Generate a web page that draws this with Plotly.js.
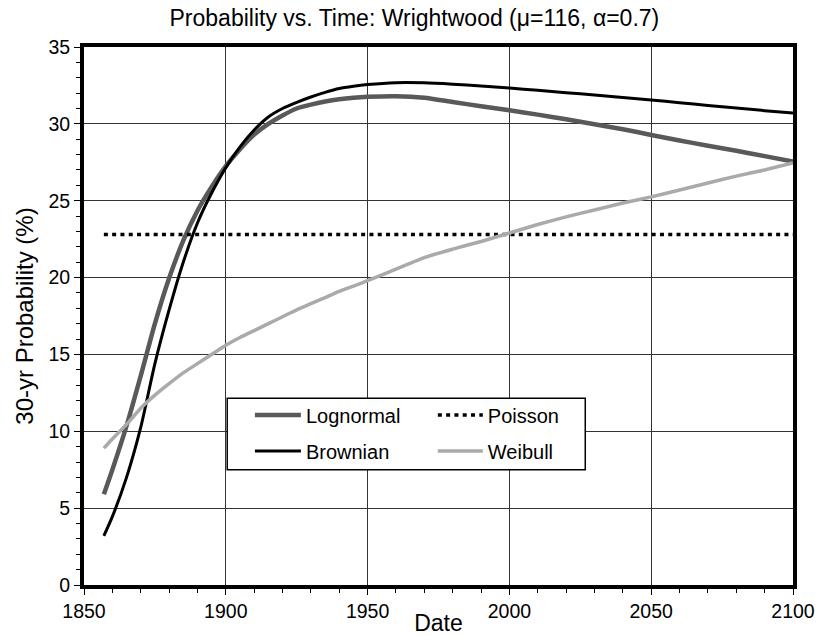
<!DOCTYPE html>
<html>
<head>
<meta charset="utf-8">
<script src="https://cdn.plot.ly/plotly-3.0.1.min.js"></script>
<style>
  html, body { margin: 0; padding: 0; background: #fff; }
  #chart { width: 816px; height: 636px; }
</style>
</head>
<body>
<div id="chart"></div>
<script>
// 30-year conditional probability for the Wrightwood site, by forecast start date
const years = [1857, 1860, 1865, 1870, 1875, 1880, 1885, 1890, 1895, 1900, 1905, 1910,
  1915, 1920, 1925, 1930, 1935, 1940, 1945, 1950, 1960, 1970, 1980, 1990, 2000,
  2010, 2020, 2030, 2040, 2050, 2060, 2070, 2080, 2090, 2100];

const lognormal = [5.9, 7.5, 10.35, 13.6, 17.0, 19.95, 22.4, 24.35, 25.9, 27.25, 28.35, 29.3,
  30.0, 30.55, 31.0, 31.25, 31.45, 31.6, 31.7, 31.76, 31.8, 31.7, 31.42, 31.15, 30.88,
  30.6, 30.3, 29.98, 29.65, 29.28, 28.92, 28.58, 28.25, 27.9, 27.55];

const brownian = [3.2, 4.45, 7.0, 10.25, 14.4, 17.9, 21.0, 23.55, 25.5, 27.15, 28.5, 29.6,
  30.45, 31.0, 31.4, 31.75, 32.05, 32.3, 32.45, 32.56, 32.68, 32.67, 32.58, 32.46, 32.33,
  32.18, 32.03, 31.88, 31.72, 31.55, 31.38, 31.2, 31.03, 30.86, 30.7];

const weibull = [8.9, 9.5, 10.45, 11.5, 12.35, 13.1, 13.8, 14.4, 15.0, 15.6, 16.1, 16.55,
  17.0, 17.45, 17.9, 18.3, 18.7, 19.1, 19.45, 19.8, 20.55, 21.3, 21.85, 22.35, 22.9,
  23.45, 23.95, 24.4, 24.85, 25.25, 25.7, 26.15, 26.6, 27.0, 27.45];

// time-independent model: constant over the whole window
const poissonYears = [1857, 2100];
const poissonValue = 22.8;
const poisson = poissonYears.map(() => poissonValue);

const FONT = 'Liberation Sans, Arial, Helvetica, sans-serif';

const traces = [
  { x: years, y: lognormal, name: 'Lognormal', mode: 'lines',
    line: { color: '#595959', width: 4.5, shape: 'spline', smoothing: 0.6 },
    legend: 'legend', legendgroup: 'a' },
  { x: years, y: brownian, name: 'Brownian', mode: 'lines',
    line: { color: '#000000', width: 3, shape: 'spline', smoothing: 0.6 },
    legend: 'legend', legendgroup: 'b' },
  { x: poissonYears, y: poisson, name: 'Poisson', mode: 'lines',
    line: { color: '#000000', width: 3.5, dash: '4px,4.3px' },
    legend: 'legend2', legendgroup: 'c' },
  { x: years, y: weibull, name: 'Weibull', mode: 'lines',
    line: { color: '#aaaaaa', width: 3.5, shape: 'spline', smoothing: 0.6 },
    legend: 'legend2', legendgroup: 'd' }
];

const axisCommon = {
  showline: true, linecolor: '#000', linewidth: 4, mirror: true,
  showgrid: true, gridcolor: '#333', gridwidth: 1,
  zeroline: false,
  ticks: 'outside', ticklen: 6, tickwidth: 1, tickcolor: '#000',
  tickfont: { family: FONT, size: 19.5, color: '#000' }
};

const legendCommon = {
  orientation: 'v', bgcolor: 'rgba(0,0,0,0)', borderwidth: 0,
  font: { family: FONT, size: 20, color: '#000' },
  tracegroupgap: 7, xanchor: 'left', yanchor: 'top'
};

const layout = {
  width: 816, height: 636,
  margin: { l: 84, r: 23, t: 47, b: 51 },
  paper_bgcolor: '#fff', plot_bgcolor: '#fff',
  font: { family: FONT, color: '#000' },
  title: {
    text: 'Probability vs. Time: Wrightwood (μ=116, α=0.7)',
    font: { family: FONT, size: 23, color: '#000' },
    xref: 'paper', x: 0.466, xanchor: 'center',
    yref: 'container', y: 0.972, yanchor: 'middle'
  },
  xaxis: Object.assign({}, axisCommon, {
    range: [1850, 2100], dtick: 50, tick0: 1850,
    minor: { dtick: 10, ticklen: 4, tickcolor: '#000', showgrid: false },
    title: { text: 'Date', font: { family: FONT, size: 23, color: '#000' }, standoff: 0 }
  }),
  yaxis: Object.assign({}, axisCommon, {
    range: [0, 35], dtick: 5, tick0: 0,
    minor: { dtick: 1, ticklen: 4, tickcolor: '#000', showgrid: false },
    title: { text: '30-yr Probability (%)', font: { family: FONT, size: 24, color: '#000' }, standoff: 9 }
  }),
  showlegend: true,
  legend: Object.assign({}, legendCommon, { x: 0.234, y: 0.352, itemwidth: 46 }),
  legend2: Object.assign({}, legendCommon, { x: 0.492, y: 0.352, itemwidth: 45 }),
  shapes: [{
    type: 'rect', xref: 'paper', yref: 'paper', layer: 'above',
    x0: 0.202, x1: 0.707, y0: 0.214, y1: 0.347,
    fillcolor: '#fff', line: { color: '#000', width: 1.5 }
  }]
};

Plotly.newPlot('chart', traces, layout, { staticPlot: true, displayModeBar: false });
</script>
</body>
</html>
